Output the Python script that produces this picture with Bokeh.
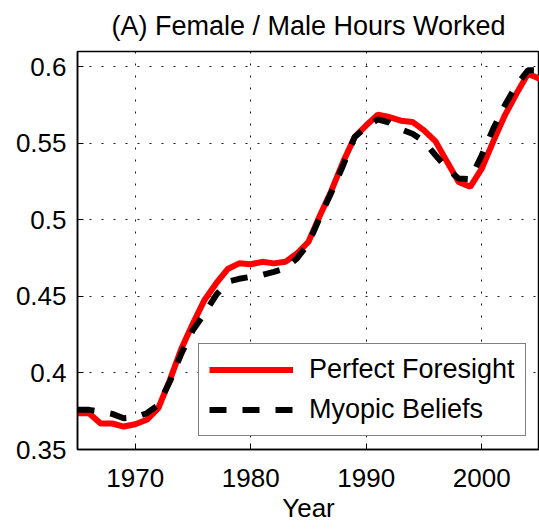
from bokeh.plotting import figure
from bokeh.embed import file_html
from bokeh.resources import INLINE
from bokeh.models import Range1d, FixedTicker

years = list(range(1965, 2006))
perfect_foresight = [0.3737, 0.3737, 0.3670, 0.3670, 0.3650, 0.3665, 0.3694, 0.3770, 0.3955, 0.4160,
                     0.4324, 0.4477, 0.4585, 0.4679, 0.4716, 0.4710, 0.4726, 0.4716, 0.4726, 0.4780,
                     0.4857, 0.5030, 0.5194, 0.5379, 0.5542, 0.5618, 0.5687, 0.5672, 0.5648, 0.5640,
                     0.5585, 0.5513, 0.5379, 0.5248, 0.5216, 0.5335, 0.5513, 0.5683, 0.5824, 0.5955,
                     0.5922]
myopic_beliefs = [0.3759, 0.3759, 0.3748, 0.3733, 0.3704, 0.3709, 0.3737, 0.3792, 0.3944, 0.4128,
                  0.4281, 0.4389, 0.4509, 0.4596, 0.4615, 0.4628, 0.4640, 0.4661, 0.4683, 0.4748,
                  0.4846, 0.5020, 0.5183, 0.5357, 0.5542, 0.5607, 0.5657, 0.5635, 0.5592, 0.5563,
                  0.5513, 0.5422, 0.5335, 0.5270, 0.5266, 0.5422, 0.5596, 0.5749, 0.5879, 0.5977,
                  0.5977]
x_ticks = [1970, 1980, 1990, 2000]
x_tick_labels = ["1970", "1980", "1990", "2000"]
y_ticks = [0.35, 0.4, 0.45, 0.5, 0.55, 0.6]
y_tick_labels = ["0.35", "0.4", "0.45", "0.5", "0.55", "0.6"]
title_text = "(A) Female / Male Hours Worked"

FONT = "Liberation Sans"

p = figure(width=539, height=529, output_backend="svg", toolbar_location=None,
           x_range=Range1d(1965, 2005), y_range=Range1d(0.35, 0.61),
           min_border_left=77, min_border_right=0, min_border_top=51, min_border_bottom=80,
           title=title_text)

p.title.text_font = FONT
p.title.text_font_size = "27px"
p.title.text_font_style = "normal"
p.title.text_color = "black"
p.title.align = "center"
p.title.vertical_align = "top"
p.title.standoff = 18

p.outline_line_color = "black"
p.outline_line_width = 1.5
p.background_fill_color = "white"
p.border_fill_color = "white"

for ax in (p.xaxis[0], p.yaxis[0]):
    ax.axis_line_color = "black"
    ax.axis_line_width = 1.5
    ax.major_tick_in = 6
    ax.major_tick_out = 0
    ax.minor_tick_line_color = None
    ax.major_tick_line_color = "black"
    ax.major_label_text_font = FONT
    ax.major_label_text_font_size = "26px"
    ax.major_label_text_color = "black"
    ax.axis_label_text_font = FONT
    ax.axis_label_text_font_size = "26px"
    ax.axis_label_text_font_style = "normal"
    ax.axis_label_text_color = "black"

p.xaxis.ticker = FixedTicker(ticks=x_ticks)
p.xaxis.major_label_overrides = dict(zip(x_ticks, x_tick_labels))
p.yaxis.ticker = FixedTicker(ticks=y_ticks)
p.yaxis.major_label_overrides = dict(zip(y_ticks, y_tick_labels))
p.xaxis.axis_label = "Year"
p.xaxis.major_label_standoff = 19
p.xaxis.axis_label_standoff = 3
p.yaxis.major_label_standoff = 11

for g in (p.xgrid[0], p.ygrid[0]):
    g.grid_line_color = "black"
    g.grid_line_dash = "2 10"
    g.grid_line_width = 1
    g.grid_line_alpha = 0.9
p.xgrid.ticker = FixedTicker(ticks=x_ticks)
p.ygrid.ticker = FixedTicker(ticks=y_ticks)

p.line(years, perfect_foresight, line_color="#ff0000", line_width=6,
       legend_label="Perfect Foresight")
p.line(years, myopic_beliefs, line_color="black", line_width=6, line_dash="17 16",
       legend_label="Myopic Beliefs")

lg = p.legend[0]
lg.location = (121, 13)
lg.border_line_color = "black"
lg.border_line_width = 1
lg.background_fill_color = "white"
lg.background_fill_alpha = 1
lg.label_text_font = FONT
lg.label_text_font_size = "27px"
lg.label_text_color = "black"
lg.glyph_width = 84
lg.glyph_height = 29
lg.label_height = 29
lg.label_standoff = 16
lg.padding = 10
lg.spacing = 9
lg.margin = 0

open("out.html", "w").write(file_html(p, INLINE))
